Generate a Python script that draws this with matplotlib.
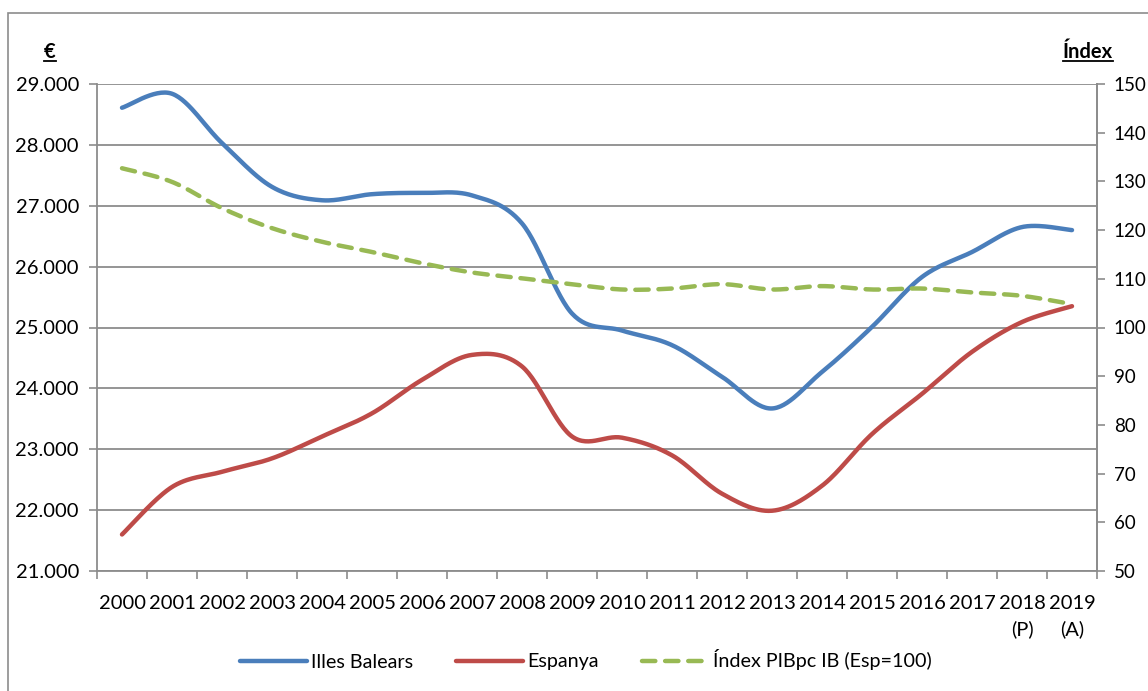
import numpy as np
import matplotlib
matplotlib.use("Agg")
import matplotlib.pyplot as plt
from matplotlib.patches import Rectangle
from matplotlib.lines import Line2D
from matplotlib.ticker import FuncFormatter, FixedLocator

plt.rcParams['font.family'] = ['Lato', 'DejaVu Sans']

years = ['2000', '2001', '2002', '2003', '2004', '2005', '2006', '2007', '2008', '2009',
         '2010', '2011', '2012', '2013', '2014', '2015', '2016', '2017', '2018\n(P)', '2019\n(A)']
balears = [28610, 28840, 28030, 27310, 27090, 27190, 27210, 27170, 26710, 25230,
           24950, 24710, 24190, 23670, 24270, 25010, 25830, 26240, 26650, 26600]
espanya = [21600, 22380, 22630, 22850, 23210, 23590, 24140, 24550, 24360, 23210,
           23190, 22900, 22270, 21990, 22400, 23250, 23910, 24600, 25090, 25350]
index_ib = [132.7, 129.9, 124.5, 120.4, 117.6, 115.5, 113.2, 111.3, 110.1, 108.9,
            107.8, 108.0, 108.9, 107.8, 108.5, 107.8, 108.0, 107.2, 106.5, 104.8]

series_names = ['Illes Balears', 'Espanya', 'Índex PIBpc IB (Esp=100)']
colors = ['#4A7EBB', '#BE4B48', '#98B954']


def smooth(xs, ys, n=30):
    """Excel-like smoothed line (Catmull-Rom via cubic Bezier)."""
    xs = np.asarray(xs, float)
    ys = np.asarray(ys, float)
    P = np.column_stack([xs, ys])
    out = []
    m = len(P)
    for i in range(m - 1):
        p0 = P[i - 1] if i > 0 else P[i]
        p1 = P[i]
        p2 = P[i + 1]
        p3 = P[i + 2] if i + 2 < m else P[i + 1]
        c1 = p1 + (p2 - p0) / 6.0
        c2 = p2 - (p3 - p1) / 6.0
        t = np.linspace(0, 1, n, endpoint=(i == m - 2))[:, None]
        b = ((1 - t) ** 3) * p1 + 3 * ((1 - t) ** 2) * t * c1 + 3 * (1 - t) * t ** 2 * c2 + t ** 3 * p2
        out.append(b)
    out = np.vstack(out)
    return out[:, 0], out[:, 1]


W, H = 1148, 691
fig = plt.figure(figsize=(W / 100, H / 100), dpi=100)
fig.patch.set_facecolor('white')

# outer frame
fig.patches.append(Rectangle((8 / W, -0.05), 1.1, 1 - 13 / H + 0.05, transform=fig.transFigure,
                             fill=False, edgecolor='#8C8C8C', linewidth=1.2))

ax = fig.add_axes([97 / W, 1 - 571 / H, 1000 / W, (571 - 84) / H])
ax2 = ax.twinx()

x = np.arange(len(years))
grid_c = '#8C8C8C'
fs = 14.5

# left axis
ax.set_xlim(-0.5, len(years) - 0.5)
ax.set_ylim(21000, 29000)
ax.set_yticks(np.arange(21000, 29001, 1000))
ax.yaxis.set_major_formatter(FuncFormatter(lambda v, p: f"{int(v):,}".replace(',', '.')))
ax.grid(axis='y', color=grid_c, linewidth=1.3)
ax.set_axisbelow(True)

ax.set_xticks(x)
ax.set_xticklabels(years)
for lab in ax.get_xticklabels():
    lab.set_linespacing(1.55)
ax.xaxis.set_minor_locator(FixedLocator(np.arange(-0.5, len(years), 1.0)))
ax.tick_params(axis='x', which='major', length=0, pad=17, labelsize=fs)
ax.tick_params(axis='x', which='minor', length=6, width=1.2, color=grid_c, direction='out')
ax.tick_params(axis='y', length=6, width=1.2, color=grid_c, pad=7, labelsize=fs)

ax.spines['top'].set_visible(False)
for s in ['left', 'bottom', 'right']:
    ax.spines[s].set_color(grid_c)
    ax.spines[s].set_linewidth(1.3)

# right axis
ax2.set_ylim(50, 150)
ax2.set_yticks(np.arange(50, 151, 10))
ax2.tick_params(axis='y', length=6, width=1.2, color=grid_c, pad=6, labelsize=13.5)
for s in ['top', 'left', 'bottom']:
    ax2.spines[s].set_visible(False)
ax2.spines['right'].set_color(grid_c)
ax2.spines['right'].set_linewidth(1.3)

# lines
sx, sy = smooth(x, balears)
l1, = ax.plot(sx, sy, color=colors[0], lw=3.2, solid_capstyle='round', label=series_names[0])
sx, sy = smooth(x, espanya)
l2, = ax.plot(sx, sy, color=colors[1], lw=3.2, solid_capstyle='round', label=series_names[1])
sx, sy = smooth(x, index_ib)
l3, = ax2.plot(sx, sy, color=colors[2], lw=3.2, dashes=(3.0, 2.2), dash_capstyle='round',
               label=series_names[2])

# unit titles (bold, underlined)
renderer = fig.canvas.get_renderer()
for txt, xpx, ypx in [('€', 50, 52), ('Índex', 1088, 52)]:
    t = fig.text(xpx / W, 1 - ypx / H, txt, ha='center', va='center', fontsize=fs,
                 fontweight='bold')
    bb = t.get_window_extent(renderer=renderer)
    yl = (bb.y0 + 1) / H
    fig.add_artist(Line2D([bb.x0 / W, bb.x1 / W], [yl, yl], transform=fig.transFigure,
                          color='black', lw=1.3))

# legend
fig.legend(handles=[l1, l2, l3], loc='center', bbox_to_anchor=(586 / W, 1 - 660 / H),
           ncol=3, frameon=False, fontsize=14.2, handlelength=3.4, handletextpad=0.2,
           columnspacing=2.2)

fig.savefig('out.png', dpi=100, facecolor='white')
